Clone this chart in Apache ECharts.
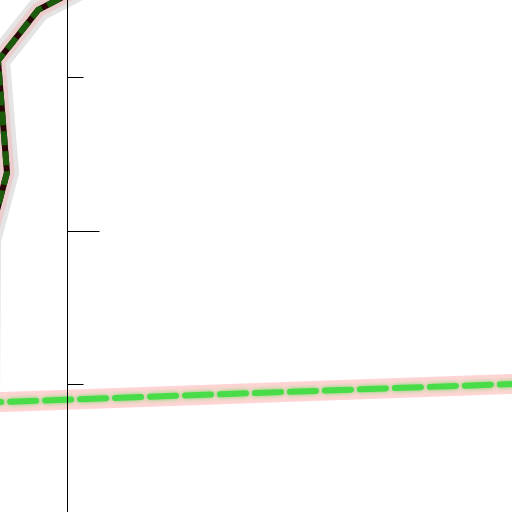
<!DOCTYPE html>
<html>
<head>
<meta charset="utf-8">
<script src="https://cdn.jsdelivr.net/npm/echarts@6/dist/echarts.min.js"></script>
<style>
  html, body { margin: 0; padding: 0; background: #fff; overflow: hidden; width: 512px; height: 512px; }
  /* the picture is a crop of a larger plot, so the chart box runs past the page edges */
  #chart { position: absolute; left: -100px; top: -100px; width: 712px; height: 712px; }
</style>
</head>
<body>
<div id="chart"></div>
<script>
// values (x, y)
const upperLine = [[0.66, 3.635], [-0.7, 3.44], [-1.66, 3.11], [-1.445, 2.38], [-1.874, 1.94], [-1.9, 0.85]]
const lowerLine = [[-3.04, 0.872], [12.24, 1.019]]
const xRange = [-4, 13]
const yRange = [-0.482, 4.156]
const majorTicks = [2]
const minorTicks = [1, 3]

let myChart = echarts.init(document.getElementById('chart'))

function line(data, width, color, type) {
  return {
    type: 'line',
    data: data,
    symbol: 'none',
    clip: false,
    silent: true,
    lineStyle: { width: width, color: color, type: type || 'solid', join: 'miter' }
  }
}

// where x = 0 sits inside the chart box
const zeroOffset = -(-xRange[0] * 712 / (xRange[1] - xRange[0]))

function yAxis(ticks, len) {
  return {
    type: 'value',
    position: 'left',
    offset: zeroOffset,
    min: yRange[0],
    max: yRange[1],
    z: 10,
    axisLine: { show: true, onZero: false, lineStyle: { color: '#000', width: 1 } },
    axisTick: { show: true, inside: true, length: len, customValues: ticks, lineStyle: { color: '#000' } },
    axisLabel: { show: false },
    splitLine: { show: false }
  }
}

myChart.setOption({
  animation: false,
  grid: { left: 0, right: 0, top: 0, bottom: 0 },
  xAxis: { type: 'value', min: xRange[0], max: xRange[1], show: false },
  yAxis: [yAxis(majorTicks, 32), yAxis(minorTicks, 16)],
  series: [
    line(lowerLine, 20, '#ffd5d5'),
    {
      type: 'line', data: lowerLine, symbol: 'none', clip: false, silent: true,
      lineStyle: {
        width: 6, color: '#48dc48', type: [26, 9], cap: 'round',
        shadowBlur: 5, shadowColor: 'rgba(60,220,60,0.7)'
      }
    },
    line(upperLine, 24, '#e4e4e4'),
    line(upperLine, 15, '#ebcdcd'),
    line(upperLine, 6, '#2a0808'),
    line(upperLine, 6, '#1c5a0c', [14, 6])
  ]
})
</script>
</body>
</html>
